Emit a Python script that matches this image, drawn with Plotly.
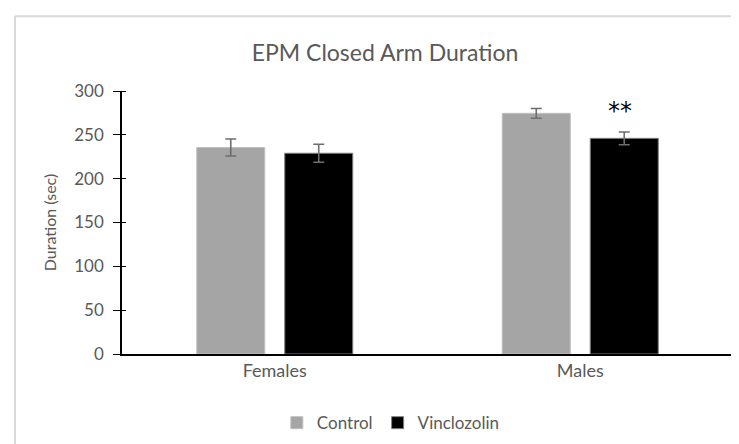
import plotly.graph_objects as go

categories = ["Females", "Males"]
control_vals = [235.5, 274.5]
control_err = [9.7, 5.5]
vinclozolin_vals = [229.0, 246.0]
vinclozolin_err = [10.3, 7.3]
y_ticks = [0, 50, 100, 150, 200, 250, 300]
significance_label = "**"
significance_y = 277

font_family = "Lato, Open Sans, Liberation Sans, sans-serif"
text_gray = "#595959"

fig = go.Figure()
fig.add_trace(go.Bar(
    name="Control", x=categories, y=control_vals,
    marker=dict(color="#A5A5A5", line=dict(color="#BFBFBF", width=1)),
    error_y=dict(type="data", array=control_err, color="#6e6e6e", thickness=1.6, width=5.5),
))
fig.add_trace(go.Bar(
    name="Vinclozolin", x=categories, y=vinclozolin_vals,
    marker=dict(color="#000000", line=dict(color="#7f7f7f", width=1)),
    error_y=dict(type="data", array=vinclozolin_err, color="#6e6e6e", thickness=1.6, width=5.5),
))

fig.add_annotation(
    x=categories[1], y=significance_y, xref="x", yref="y", text=significance_label,
    showarrow=False, xshift=40, font=dict(size=24, color="#000000", family="DejaVu Sans, sans-serif"),
    yanchor="middle",
)

# chart frame: only left and top edges fall inside the picture
fig.add_shape(type="line", xref="paper", yref="paper",
              x0=-0.1751, x1=-0.1751, y0=-0.40, y1=1.284,
              line=dict(color="#d9d9d9", width=2))
fig.add_shape(type="line", xref="paper", yref="paper",
              x0=-0.1751, x1=1.05, y0=1.284, y1=1.284,
              line=dict(color="#d9d9d9", width=2))

fig.update_layout(
    width=739, height=444,
    margin=dict(l=114, r=14, t=83, b=97),
    paper_bgcolor="white", plot_bgcolor="white",
    barmode="group", bargap=0.424, bargroupgap=0.227,
    title=dict(text="EPM Closed Arm Duration", x=377 / 739, xref="container", xanchor="center",
               y=1 - 45 / 444, yref="container", yanchor="middle",
               font=dict(size=23, color=text_gray, family=font_family)),
    font=dict(family=font_family, color=text_gray, size=17),
    legend=dict(orientation="h", x=0.44, xanchor="center", y=-0.258, yanchor="middle",
                font=dict(size=17, color=text_gray), itemwidth=30, traceorder="normal"),
    showlegend=True,
)
fig.update_yaxes(
    range=[0, 300], tickvals=y_ticks, showgrid=False, zeroline=False,
    showline=True, linecolor="black", linewidth=1.5,
    ticks="outside", ticklen=7, tickcolor="black", tickwidth=1.2,
    minor=dict(tickvals=y_ticks, ticks="inside", ticklen=4, tickcolor="black", tickwidth=1.2, showgrid=False),
    ticklabelstandoff=6,
    tickfont=dict(size=17, color=text_gray),
    title=dict(text="Duration (sec)", font=dict(size=16, color=text_gray), standoff=14),
)
fig.update_xaxes(
    showline=True, linecolor="black", linewidth=1.5, ticks="",
    tickfont=dict(size=18, color=text_gray), showgrid=False,
)

fig.write_html("out.html")
